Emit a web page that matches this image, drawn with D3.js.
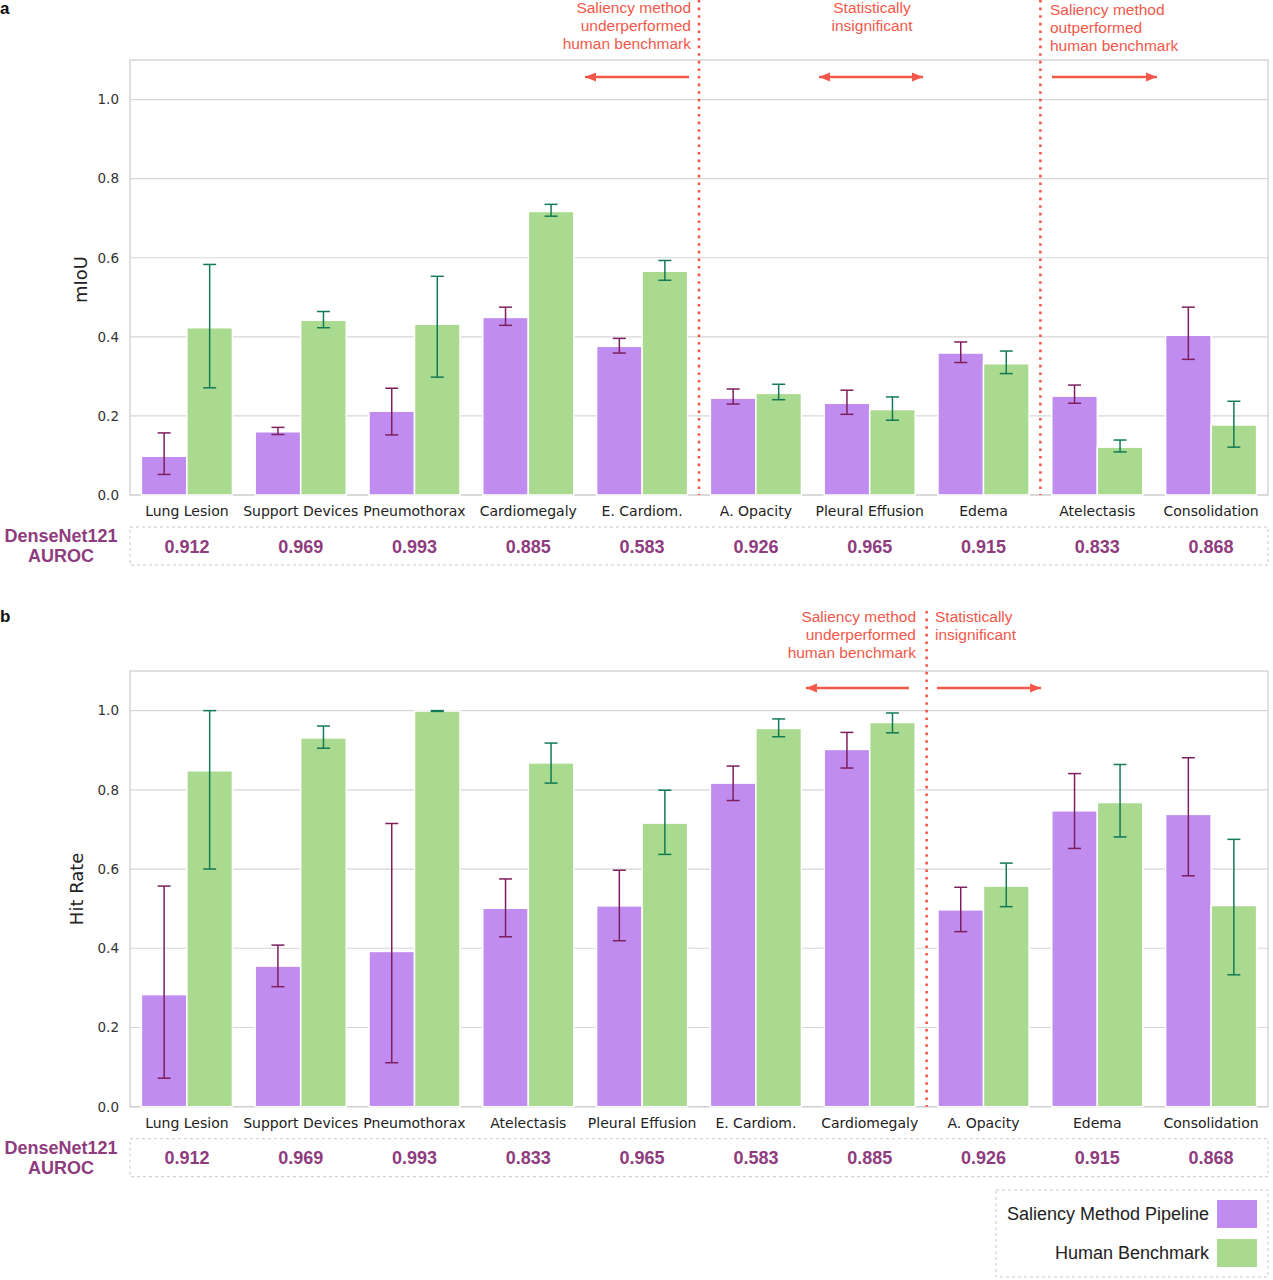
<!DOCTYPE html>
<html><head><meta charset="utf-8">
<script src="https://cdn.jsdelivr.net/npm/d3@7"></script>
<style>body{margin:0;background:#fff}svg{display:block}</style>
</head><body>
<svg id="c" width="1273" height="1280"></svg>
<script>
// ---------- DATA ----------
const catsA = ["Lung Lesion","Support Devices","Pneumothorax","Cardiomegaly","E. Cardiom.","A. Opacity","Pleural Effusion","Edema","Atelectasis","Consolidation"];
const saliencyA = [0.098,0.160,0.212,0.449,0.376,0.245,0.232,0.359,0.250,0.404];
const saliencyA_lo = [0.052,0.153,0.152,0.429,0.359,0.230,0.204,0.335,0.232,0.343];
const saliencyA_hi = [0.157,0.171,0.270,0.475,0.396,0.268,0.265,0.387,0.278,0.475];
const humanA = [0.423,0.442,0.432,0.717,0.566,0.257,0.216,0.332,0.121,0.177];
const humanA_lo = [0.271,0.423,0.298,0.705,0.543,0.241,0.189,0.307,0.109,0.121];
const humanA_hi = [0.583,0.464,0.553,0.735,0.593,0.280,0.248,0.364,0.139,0.237];
const aurocA = ["0.912","0.969","0.993","0.885","0.583","0.926","0.965","0.915","0.833","0.868"];

const catsB = ["Lung Lesion","Support Devices","Pneumothorax","Atelectasis","Pleural Effusion","E. Cardiom.","Cardiomegaly","A. Opacity","Edema","Consolidation"];
const saliencyB = [0.283,0.355,0.392,0.501,0.507,0.817,0.902,0.497,0.747,0.738];
const saliencyB_lo = [0.072,0.303,0.111,0.429,0.419,0.773,0.855,0.442,0.652,0.583];
const saliencyB_hi = [0.557,0.408,0.715,0.575,0.597,0.860,0.945,0.554,0.841,0.881];
const humanB = [0.848,0.931,0.999,0.868,0.716,0.955,0.970,0.557,0.768,0.508];
const humanB_lo = [0.600,0.905,0.998,0.817,0.637,0.934,0.944,0.505,0.681,0.333];
const humanB_hi = [1.000,0.961,1.000,0.918,0.799,0.979,0.994,0.615,0.864,0.675];
const aurocB = ["0.912","0.969","0.993","0.833","0.965","0.583","0.885","0.926","0.915","0.868"];

const yTicks = [0.0,0.2,0.4,0.6,0.8,1.0];
const seriesNames = ["Saliency Method Pipeline","Human Benchmark"];

// ---------- STYLE ----------
const C_SAL = "#c08cf0", C_HUM = "#a9da8f";
const C_SAL_ERR = "#7d1f5c", C_HUM_ERR = "#127a55";
const C_RED = "#f4584a", C_AUROC = "#8e3c7e";
const TICKFONT = "'DejaVu Sans', sans-serif";
const HFONT = "'Liberation Sans', Arial, Helvetica, sans-serif";

const svg = d3.select("#c");
const X0 = 130, X1 = 1268;

function panel(opt){
  const g = svg.append("g");
  const y = d3.scaleLinear().domain([0,1.1]).range([opt.yBottom, opt.yTop]);
  const x = d3.scaleBand().domain(opt.cats).range([X0,X1]).paddingInner(0.2).paddingOuter(0.1);
  const xs = d3.scaleBand().domain([0,1]).range([0,x.bandwidth()]);

  // panel letter
  g.append("text").attr("x",0).attr("y",opt.letterY).attr("font-family",HFONT).attr("font-weight","bold")
    .attr("font-size",17).attr("fill","#111").text(opt.letter);

  // gridlines
  g.append("g").selectAll("line").data(yTicks).join("line")
    .attr("x1",X0).attr("x2",X1).attr("y1",d=>y(d)).attr("y2",d=>y(d))
    .attr("stroke","#d6d6d6").attr("stroke-width",1.2);

  // y axis labels
  const ax = d3.axisLeft(y).tickValues(yTicks).tickFormat(d3.format(".1f")).tickSize(0).tickPadding(11);
  const axg = g.append("g").attr("transform",`translate(${X0},0)`).call(ax);
  axg.select(".domain").remove();
  axg.selectAll("text").attr("font-family",TICKFONT).attr("font-size",13.5).attr("fill","#333");

  // frame
  g.append("rect").attr("x",X0).attr("y",opt.yTop).attr("width",X1-X0).attr("height",opt.yBottom-opt.yTop)
    .attr("fill","none").attr("stroke","#cfcfcf").attr("stroke-width",1.3);

  // bars
  const series = [
    {v:opt.sal, lo:opt.salLo, hi:opt.salHi, c:C_SAL, ec:C_SAL_ERR},
    {v:opt.hum, lo:opt.humLo, hi:opt.humHi, c:C_HUM, ec:C_HUM_ERR}
  ];
  series.forEach((s,si)=>{
    g.append("g").selectAll("rect").data(opt.cats).join("rect")
      .attr("x",d=>x(d)+xs(si)).attr("width",xs.bandwidth())
      .attr("y",(d,i)=>y(s.v[i])).attr("height",(d,i)=>y(0)-y(s.v[i]))
      .attr("fill",s.c).attr("stroke","#fff").attr("stroke-width",1.5);
  });
  series.forEach((s,si)=>{
    const eg = g.append("g").attr("stroke",s.ec).attr("stroke-width",1.5);
    opt.cats.forEach((d,i)=>{
      const cx = x(d)+xs(si)+xs.bandwidth()/2;
      eg.append("line").attr("x1",cx).attr("x2",cx).attr("y1",y(s.lo[i])).attr("y2",y(s.hi[i]));
      eg.append("line").attr("x1",cx-6.5).attr("x2",cx+6.5).attr("y1",y(s.lo[i])).attr("y2",y(s.lo[i]));
      eg.append("line").attr("x1",cx-6.5).attr("x2",cx+6.5).attr("y1",y(s.hi[i])).attr("y2",y(s.hi[i]));
    });
  });

  // x labels
  g.append("g").selectAll("text").data(opt.cats).join("text")
    .attr("x",d=>x(d)+x.bandwidth()/2).attr("y",opt.yBottom+21)
    .attr("text-anchor","middle").attr("font-family",TICKFONT).attr("font-size",14).attr("fill","#222")
    .text(d=>d);

  // y label
  g.append("text").attr("transform",`translate(${opt.yLabelX},${(opt.yTop+opt.yBottom)/2+opt.yLabelDy}) rotate(-90)`)
    .attr("text-anchor","middle").attr("font-family",TICKFONT).attr("font-size",18).attr("fill","#222")
    .text(opt.yLabel);

  // AUROC row
  const by = opt.yBottom+32;
  g.append("rect").attr("x",X0).attr("y",by).attr("width",X1-X0).attr("height",38)
    .attr("fill","none").attr("stroke","#c8c8c8").attr("stroke-width",1).attr("stroke-dasharray","3,3");
  g.append("g").selectAll("text").data(opt.cats).join("text")
    .attr("x",d=>x(d)+x.bandwidth()/2).attr("y",by+25.5)
    .attr("text-anchor","middle").attr("font-family",HFONT).attr("font-weight","bold").attr("font-size",18)
    .attr("fill",C_AUROC).text((d,i)=>opt.auroc[i]);
  const lab = g.append("text").attr("text-anchor","middle").attr("font-family",HFONT).attr("font-weight","bold")
    .attr("font-size",18).attr("fill",C_AUROC);
  lab.append("tspan").attr("x",61).attr("y",by+15).text("DenseNet121");
  lab.append("tspan").attr("x",61).attr("y",by+35).text("AUROC");

  // dividers
  opt.dividers.forEach(k=>{
    const xx = x(opt.cats[k]) - x.step()*0.1;
    g.append("line").attr("x1",xx).attr("x2",xx).attr("y1",opt.divTop).attr("y2",opt.yBottom)
      .attr("stroke",C_RED).attr("stroke-width",2.6).attr("stroke-dasharray","2.6,5");
  });

  // annotations
  opt.notes.forEach(n=>{
    const t = g.append("text").attr("font-family",HFONT).attr("font-size",15.5).attr("fill",C_RED)
      .attr("text-anchor",n.anchor);
    n.lines.forEach((l,j)=>t.append("tspan").attr("x",n.x).attr("y",n.y+j*18).text(l));
  });
  opt.arrows.forEach(a=>{
    g.append("line").attr("x1",a.x1).attr("x2",a.x2).attr("y1",a.y).attr("y2",a.y)
      .attr("stroke",C_RED).attr("stroke-width",2.4);
    const head = (xt,dir)=>{
      g.append("path").attr("d",`M${xt},${a.y} L${xt-dir*11},${a.y-4.5} L${xt-dir*11},${a.y+4.5} Z`).attr("fill",C_RED);
    };
    if(a.left) head(a.x1,-1);
    if(a.right) head(a.x2,1);
  });
}

// Panel a
panel({
  letter:"a", letterY:14, cats:catsA, yTop:60, yBottom:495,
  sal:saliencyA, salLo:saliencyA_lo, salHi:saliencyA_hi,
  hum:humanA, humLo:humanA_lo, humHi:humanA_hi, auroc:aurocA,
  yLabel:"mIoU", yLabelX:87, yLabelDy:2,
  dividers:[5,8], divTop:0,
  notes:[
    {x:691,y:13,anchor:"end",lines:["Saliency method","underperformed","human benchmark"]},
    {x:872,y:13,anchor:"middle",lines:["Statistically","insignificant"]},
    {x:1050,y:15,anchor:"start",lines:["Saliency method","outperformed","human benchmark"]}
  ],
  arrows:[
    {x1:585,x2:689,y:77,left:true,right:false},
    {x1:819,x2:923,y:77,left:true,right:true},
    {x1:1052,x2:1157,y:77,left:false,right:true}
  ]
});

// Panel b
panel({
  letter:"b", letterY:622, cats:catsB, yTop:671, yBottom:1106.7,
  sal:saliencyB, salLo:saliencyB_lo, salHi:saliencyB_hi,
  hum:humanB, humLo:humanB_lo, humHi:humanB_hi, auroc:aurocB,
  yLabel:"Hit Rate", yLabelX:83, yLabelDy:0,
  dividers:[7], divTop:611,
  notes:[
    {x:916,y:622,anchor:"end",lines:["Saliency method","underperformed","human benchmark"]},
    {x:935,y:622,anchor:"start",lines:["Statistically","insignificant"]}
  ],
  arrows:[
    {x1:806,x2:909,y:688,left:true,right:false},
    {x1:937,x2:1041,y:688,left:false,right:true}
  ]
});

// Legend
const lg = svg.append("g");
lg.append("rect").attr("x",996).attr("y",1190).attr("width",272).attr("height",87)
  .attr("fill","none").attr("stroke","#c8c8c8").attr("stroke-dasharray","3,3");
[C_SAL,C_HUM].forEach((c,i)=>{
  lg.append("rect").attr("x",1217).attr("y",1200+i*39).attr("width",40).attr("height",28).attr("fill",c);
  lg.append("text").attr("x",1209).attr("y",1220+i*39).attr("text-anchor","end")
    .attr("font-family",HFONT).attr("font-size",18).attr("fill","#222").text(seriesNames[i]);
});
</script>
</body></html>
